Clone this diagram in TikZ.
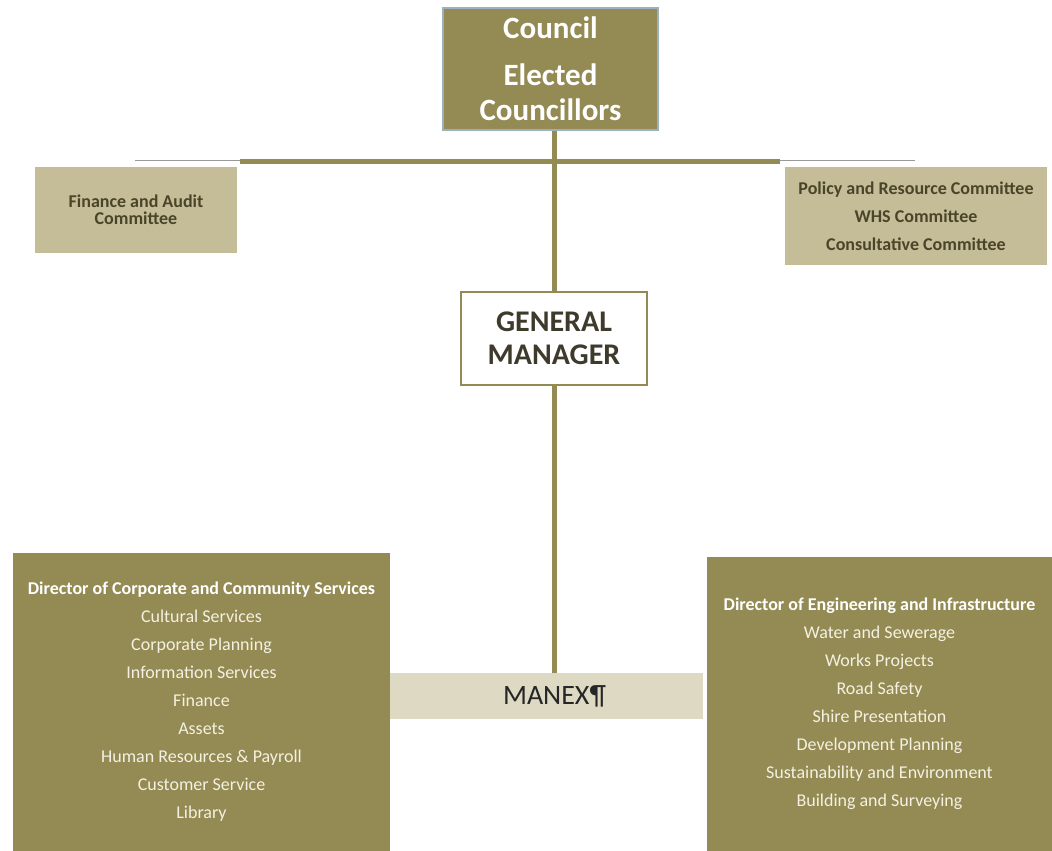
\documentclass[tikz,border=0pt]{standalone}
\usepackage{fontspec}
\setmainfont{Carlito}
\definecolor{councilolive}{HTML}{948A54}
\definecolor{councilblue}{HTML}{9DB0BF}
\definecolor{committeetan}{HTML}{C4BD97}
\definecolor{committeetext}{HTML}{4A452A}
\definecolor{manexfill}{HTML}{DDD9C3}
\definecolor{creamtext}{HTML}{F4F1E2}
\definecolor{gmtext}{HTML}{3F3B2C}

\begin{document}
\begin{tikzpicture}[x=1pt,y=-1pt,
  topbox/.style={draw=councilblue, line width=2.5, fill=councilolive, text=white, font=\bfseries\fontsize{31}{35}\selectfont, align=center, inner sep=0, minimum width=215, minimum height=122},
  committee/.style={fill=committeetan, text=committeetext, font=\bfseries\fontsize{18}{28}\selectfont, align=center, inner sep=0},
  gmbox/.style={draw=councilolive, line width=2.5, fill=white, text=gmtext, font=\bfseries\fontsize{30}{33}\selectfont, align=center, inner sep=0, minimum width=186, minimum height=93},
  dirbox/.style={fill=councilolive, text=creamtext, font=\fontsize{18}{28}\selectfont, align=center, inner sep=0},
  manexbox/.style={fill=manexfill, text=black!85, font=\fontsize{28}{30}\selectfont, inner sep=0, minimum width=313, minimum height=46},
  link/.style={draw=councilolive, line width=5}]
\useasboundingbox (0,0) rectangle (1052,851);

% bar under the council
\coordinate (barL) at (135,160);
\coordinate (barR) at (915,160);
\coordinate (armL) at (240,161.5);
\coordinate (armR) at (780,161.5);
\draw[black!40, line width=1] (barL) -- (barR);
\draw[link, line width=4.5] (armL) -- (armR);

\node[topbox] (council) at (550.5,69) {Council\\[12pt]Elected\\Councillors};

\node[committee, font=\bfseries\fontsize{18}{17}\selectfont, minimum width=202, minimum height=86] (finaudit) at (136,210) {Finance and Audit\\Committee};
\node[committee, minimum width=262, minimum height=98] (policy) at (916,216) {Policy and Resource Committee\\WHS Committee\\Consultative Committee};

\node[gmbox] (gm) at (554,338.5) {GENERAL\\MANAGER};

\node[dirbox, minimum width=377, minimum height=298] (dircorp) at (201.5,702) {\textcolor{white}{\textbf{Director of Corporate and Community Services}}\\Cultural Services\\Corporate Planning\\Information Services\\Finance\\Assets\\Human Resources \& Payroll\\Customer Service\\Library};

\node[dirbox, minimum width=345, minimum height=294] (direng) at (879.5,704) {\textcolor{white}{\textbf{Director of Engineering and Infrastructure}}\\Water and Sewerage\\Works Projects\\Road Safety\\Shire Presentation\\Development Planning\\Sustainability and Environment\\Building and Surveying};

\node[manexbox] (manex) at (546.5,696) {\hspace*{16pt}MANEX¶};

\draw[link] (gm.north |- council.south) -- (gm.north);
\draw[link] (gm.south) -- (gm.south |- manex.north);

\end{tikzpicture}
\end{document}
